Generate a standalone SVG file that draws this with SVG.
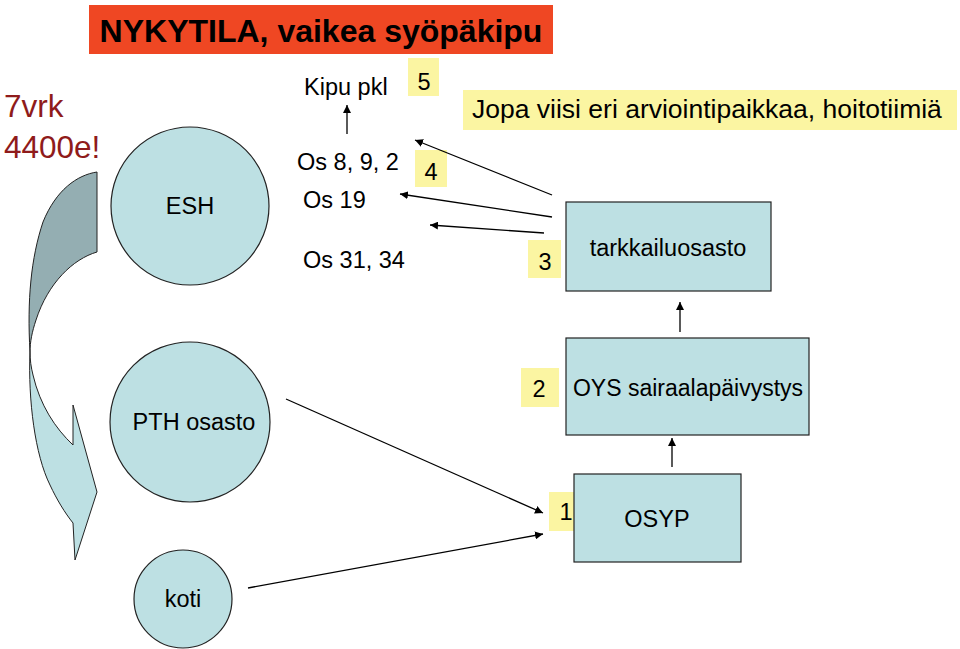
<svg xmlns="http://www.w3.org/2000/svg" width="960" height="649" viewBox="0 0 960 649">
<defs>
<style>
text{font-family:"Liberation Sans",Arial,sans-serif;fill:#000;font-size:23.5px}
.node{fill:#bde0e3;stroke:#222;stroke-width:1.2}
.num{fill:#fbf5a2}
.c text{text-anchor:middle}
text.title{font-size:32px;font-weight:bold}
text.cost{font-size:31.5px;fill:#8f1b1b}
text.jopa{font-size:26.5px}
text.oys{font-size:23px}
.conn line{stroke:#000;stroke-width:1.3;marker-end:url(#ah)}
</style>
<marker id="ah" viewBox="0 0 10 10" refX="10" refY="5" markerWidth="8" markerHeight="8" markerUnits="userSpaceOnUse" orient="auto">
<path d="M0,0 L10,5 L0,10 Z" fill="#000"/>
</marker>
</defs>
<rect width="960" height="649" fill="#fff"/>

<g id="title">
<rect x="89" y="5" width="464" height="49" fill="#ef4723"/>
<text class="title" x="321" y="42" text-anchor="middle">NYKYTILA, vaikea syöpäkipu</text>
</g>

<g id="cost">
<text class="cost" x="4" y="117">7vrk</text>
<text class="cost" x="4" y="158">4400e!</text>
</g>

<g id="curved-arrow" stroke="#222" stroke-width="1">
<path d="M97,172 L97,252 C73,259 48,283 36,320 C32,332 30,342 30,352 C27,300 31,258 43,222 C56,190 77,175 97,172 Z" fill="#94aeb2"/>
<path d="M30,352 C28,400 35,455 50,485 C57,500 65,513 73,523 L75,560 L97,492 L73,405 L73,445 C55,428 40,405 33,375 C31,367 30,360 30,352 Z" fill="#bde0e3"/>
</g>

<g id="esh" class="c">
<circle class="node" cx="190" cy="206" r="79"/>
<text x="190" y="214">ESH</text>
</g>
<g id="pth" class="c">
<circle class="node" cx="190" cy="422" r="80"/>
<text x="194" y="430">PTH osasto</text>
</g>
<g id="koti" class="c">
<circle class="node" cx="183" cy="599" r="49"/>
<text x="183" y="607">koti</text>
</g>

<g id="kipu-pkl"><text x="304" y="95">Kipu pkl</text></g>
<g id="os8"><text x="297" y="170">Os 8, 9, 2</text></g>
<g id="os19"><text x="303" y="208">Os 19</text></g>
<g id="os31"><text x="303" y="268">Os 31, 34</text></g>

<g id="n5" class="c"><rect class="num" x="408" y="58" width="31" height="38"/><text x="424" y="90">5</text></g>
<g id="n4" class="c"><rect class="num" x="415" y="150" width="32" height="37"/><text x="431" y="180">4</text></g>
<g id="n3" class="c"><rect class="num" x="528" y="240" width="33" height="38"/><text x="545" y="270">3</text></g>
<g id="n2" class="c"><rect class="num" x="521" y="368" width="38" height="39"/><text x="539" y="397">2</text></g>
<g id="n1" class="c"><rect class="num" x="549" y="492" width="33" height="39"/><text x="566" y="520">1</text></g>

<g id="jopa">
<rect class="num" x="463" y="90" width="494" height="40"/>
<text class="jopa" x="472" y="118">Jopa viisi eri arviointipaikkaa, hoitotiimiä</text>
</g>

<g id="tarkkailu" class="c">
<rect class="node" x="566" y="202" width="205" height="89"/>
<text x="668" y="256">tarkkailuosasto</text>
</g>
<g id="oys" class="c">
<rect class="node" x="566" y="338" width="243" height="97"/>
<text class="oys" x="688" y="396">OYS sairaalapäivystys</text>
</g>
<g id="osyp" class="c">
<rect class="node" x="574" y="474" width="167" height="88"/>
<text x="657" y="527">OSYP</text>
</g>

<g id="connectors" class="conn">
<line x1="347" y1="134" x2="347" y2="105"/>
<line x1="552" y1="195" x2="415" y2="140"/>
<line x1="552" y1="217" x2="400" y2="194"/>
<line x1="544" y1="233" x2="430" y2="225"/>
<line x1="680" y1="332" x2="680" y2="302"/>
<line x1="672" y1="467" x2="672" y2="438"/>
<line x1="286" y1="399" x2="543" y2="513"/>
<line x1="248" y1="588" x2="543" y2="534"/>
</g>
</svg>
